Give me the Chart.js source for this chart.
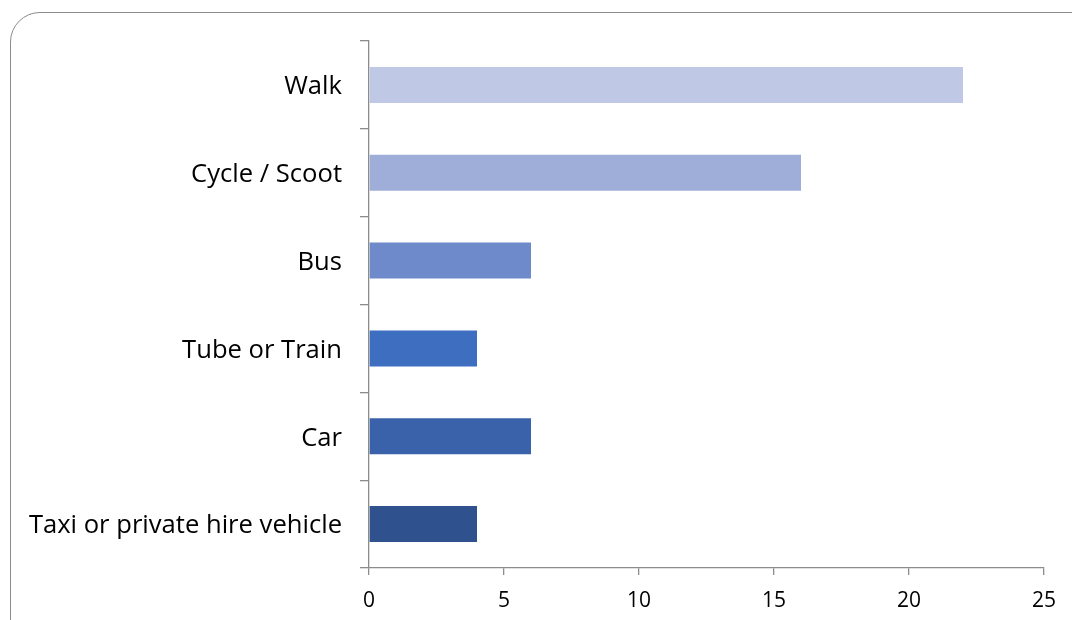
<!DOCTYPE html>
<html>
<head>
<meta charset="utf-8">
<script src="https://cdn.jsdelivr.net/npm/chart.js@4"></script>
<style>
  html, body { margin: 0; padding: 0; background: #fff; overflow: hidden; }
  #wrap { position: relative; width: 1072px; height: 620px; overflow: hidden; }
  #frame { position: absolute; left: 10px; top: 12px; width: 1100px; height: 660px;
           border: 1.3px solid #8c8c8c; border-radius: 30px; box-sizing: border-box; }
  canvas { position: absolute; left: 0; top: 0; }
</style>
</head>
<body>
<div id="wrap">
  <div id="frame"></div>
  <canvas id="c" width="1072" height="620"></canvas>
</div>
<script>
const categories = ["Walk", "Cycle / Scoot", "Bus", "Tube or Train", "Car", "Taxi or private hire vehicle"];
const values = [22, 16, 6, 4, 6, 4];
const barColors = ["#BFC9E5", "#9FAED9", "#6E8ACB", "#3D6EBF", "#3A62AA", "#2F528F"];
const xTicks = [0, 5, 10, 15, 20, 25];

const FONT = "'Open Sans', sans-serif";

new Chart(document.getElementById("c"), {
  type: "bar",
  data: {
    labels: categories,
    datasets: [{
      data: values,
      backgroundColor: barColors,
      borderWidth: 0,
      categoryPercentage: 1.0,
      barPercentage: 0.41
    }]
  },
  options: {
    indexAxis: "y",
    responsive: false,
    animation: false,
    devicePixelRatio: 1,
    layout: { padding: { top: 41, right: 28, left: 0, bottom: 0 } },
    plugins: { legend: { display: false }, tooltip: { enabled: false } },
    scales: {
      x: {
        min: 0, max: 25,
        afterBuildTicks: (s) => { s.ticks = xTicks.map(v => ({ value: v })); },
        afterFit: (s) => { s.height = 620 - 568; },
        grid: { drawOnChartArea: false, drawTicks: true, tickLength: 7, color: "#8c8c8c", lineWidth: 1.3 },
        border: { color: "#8c8c8c", width: 1.3 },
        ticks: { color: "#000", font: { family: FONT, size: 21 }, padding: 13, maxRotation: 0 }
      },
      y: {
        afterFit: (s) => { s.width = 369; },
        grid: { drawOnChartArea: false, drawTicks: true, tickLength: 9, offset: true, color: "#8c8c8c", lineWidth: 1.3 },
        border: { color: "#8c8c8c", width: 1.3 },
        ticks: { color: "#000", font: { family: FONT, size: 25.6 }, padding: 18, labelOffset: 2 }
      }
    }
  }
});
</script>
</body>
</html>
